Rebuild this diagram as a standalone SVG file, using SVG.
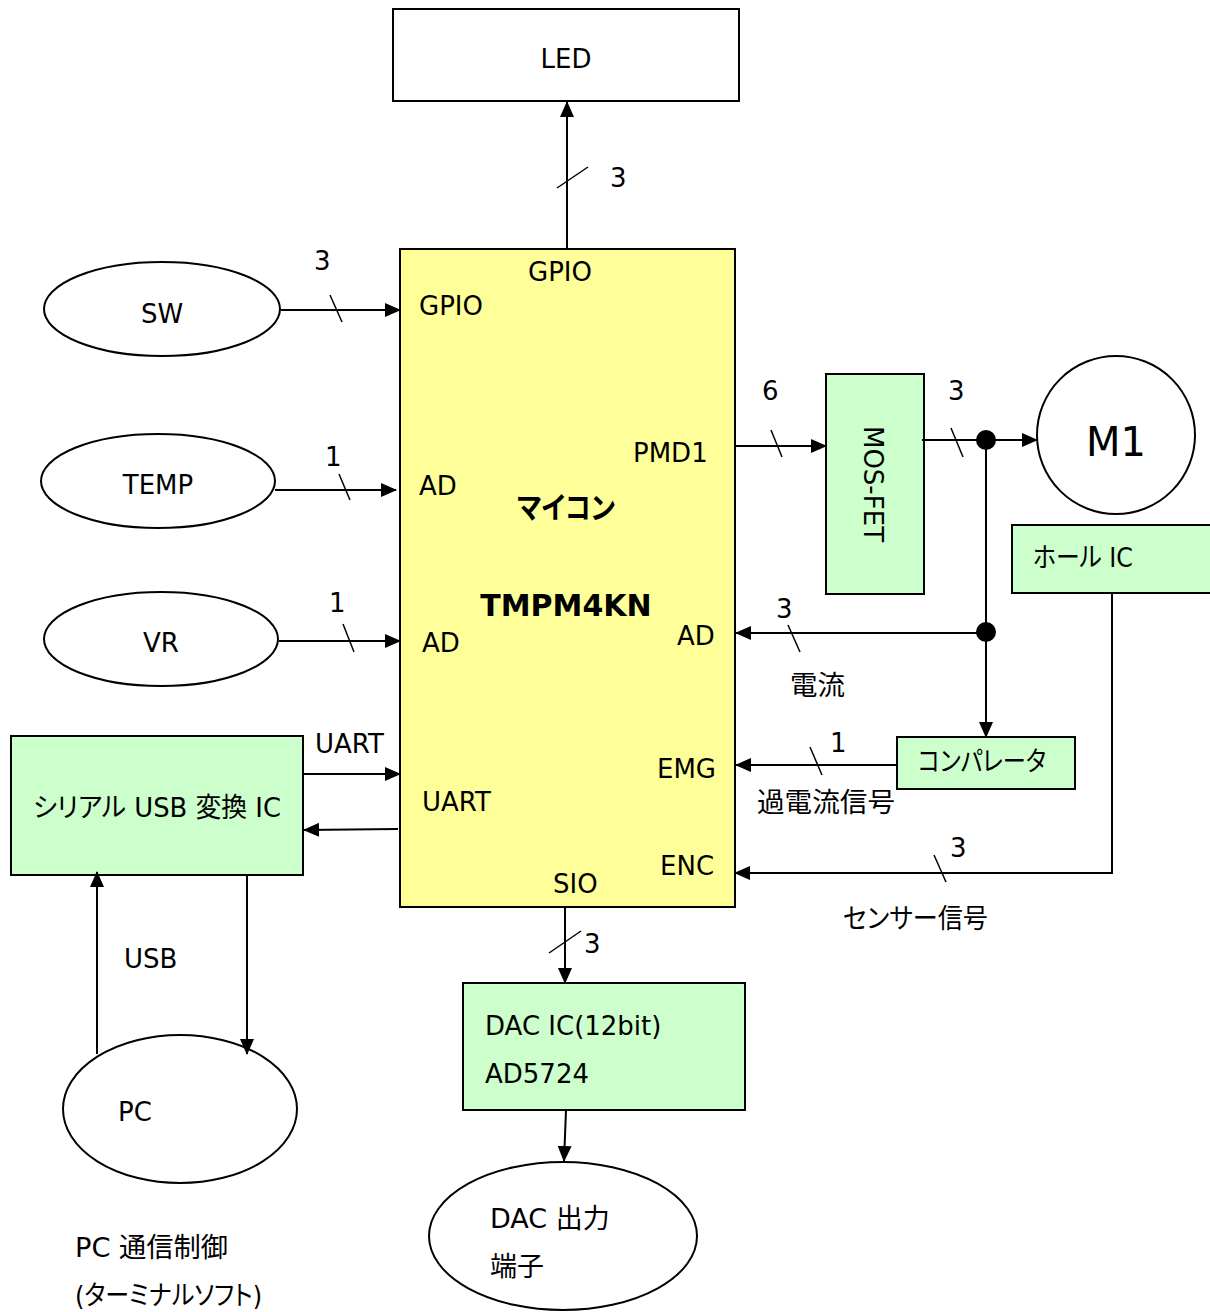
<svg xmlns="http://www.w3.org/2000/svg" width="1210" height="1312" viewBox="0 0 1210 1312">
<defs>
<marker id="ah" markerWidth="16" markerHeight="14" refX="15" refY="7" orient="auto" markerUnits="userSpaceOnUse"><path d="M0,0 L16,7 L0,14 Z" fill="#000"/></marker>
<style>
text{font-family:"DejaVu Sans","Noto Sans CJK JP",sans-serif;font-size:26px;fill:#000;font-feature-settings:"palt"}
.j{font-size:27px}
.b{stroke:#000;stroke-width:2;fill:#fff}
.g{stroke:#000;stroke-width:2;fill:#ccffcc}
.y{stroke:#000;stroke-width:2;fill:#ffff99}
.l{stroke:#000;stroke-width:2;fill:none}
.a{stroke:#000;stroke-width:2;fill:none;marker-end:url(#ah)}
.s{stroke:#000;stroke-width:1.5;fill:none}
.m{text-anchor:middle}
.bd{font-weight:bold;font-size:30px}
</style>
</defs>
<rect width="1210" height="1312" fill="#fff"/>
<g id="led"><rect class="b" x="393" y="9" width="346" height="92"/><text class="m" x="566" y="68">LED</text></g>
<g id="mcu"><rect class="y" x="400" y="249" width="335" height="658"/>
<text class="m" x="560" y="281">GPIO</text>
<text x="419" y="315">GPIO</text>
<text x="419" y="495">AD</text>
<text class="bd" x="517" y="518" textLength="98" lengthAdjust="spacingAndGlyphs">マイコン</text>
<text class="m bd" x="566" y="616">TMPM4KN</text>
<text x="633" y="462">PMD1</text>
<text x="677" y="645">AD</text>
<text x="422" y="652">AD</text>
<text x="657" y="778">EMG</text>
<text x="422" y="811">UART</text>
<text x="660" y="875">ENC</text>
<text x="553" y="893">SIO</text>
</g>
<g id="sw"><ellipse class="b" cx="162" cy="309" rx="118" ry="47"/><text class="m" x="162" y="323">SW</text></g>
<g id="temp"><ellipse class="b" cx="158" cy="481" rx="117" ry="47"/><text class="m" x="158" y="494">TEMP</text></g>
<g id="vr"><ellipse class="b" cx="161" cy="639" rx="117" ry="47"/><text class="m" x="161" y="652">VR</text></g>
<g id="serial"><rect class="g" x="11" y="736" width="292" height="139"/><text class="j" x="33" y="817" textLength="248" lengthAdjust="spacingAndGlyphs">シリアル USB 変換 IC</text></g>
<g id="pc"><ellipse class="b" cx="180" cy="1109" rx="117" ry="74"/><text x="118" y="1121">PC</text></g>
<g id="dacic"><rect class="g" x="463" y="983" width="282" height="127"/><text x="485" y="1035">DAC IC(12bit)</text><text x="485" y="1083">AD5724</text></g>
<g id="dacout"><ellipse class="b" cx="563" cy="1236" rx="134" ry="74"/><text class="j" x="490" y="1228">DAC 出力</text><text class="j" x="490" y="1276">端子</text></g>
<g id="mosfet"><rect class="g" x="826" y="374" width="98" height="220"/><text class="m" transform="translate(864,484) rotate(90)">MOS-FET</text></g>
<g id="m1"><circle class="b" cx="1116" cy="435" r="79"/><text class="m" x="1116" y="456" style="font-size:40px">M1</text></g>
<g id="hall"><rect class="g" x="1012" y="525" width="210" height="68"/><text class="j" x="1033" y="567" textLength="100" lengthAdjust="spacingAndGlyphs">ホール IC</text></g>
<g id="comp"><rect class="g" x="897" y="737" width="178" height="52"/><text class="j" x="918" y="771" textLength="128" lengthAdjust="spacingAndGlyphs">コンパレータ</text></g>
<g id="connectors">
<path class="a" d="M567,249 V102"/><path class="s" d="M557,188 L588,167"/>
<path class="a" d="M281,310 H400"/><path class="s" d="M330,295 L342,322"/>
<path class="a" d="M275,490 H396"/><path class="s" d="M339,474 L350,500"/>
<path class="a" d="M279,641 H400"/><path class="s" d="M343,624 L354,652"/>
<path class="a" d="M303,774 H400"/>
<path class="a" d="M398,829 L304,830"/>
<path class="a" d="M97,1054 V872"/>
<path class="a" d="M247,875 V1054"/>
<path class="a" d="M565,907 V983"/><path class="s" d="M549,953 L581,931"/>
<path class="a" d="M566,1110 L564,1161"/>
<path class="a" d="M735,446 H826"/><path class="s" d="M771,430 L782,457"/>
<path class="a" d="M922,440 H1037"/><path class="s" d="M951,428 L963,457"/>
<circle cx="986" cy="440" r="10" fill="#000"/>
<path class="a" d="M986,440 V737"/>
<circle cx="986" cy="632" r="10" fill="#000"/>
<path class="a" d="M986,633 H736"/><path class="s" d="M788,625 L800,652"/>
<path class="a" d="M1112,593 V873 H735"/><path class="s" d="M934,855 L946,882"/>
<path class="a" d="M897,765 H736"/><path class="s" d="M810,747 L822,775"/>
</g>
<g id="labels">
<text x="610" y="187">3</text>
<text x="314" y="270">3</text>
<text x="325" y="466">1</text>
<text x="329" y="612">1</text>
<text x="315" y="753">UART</text>
<text x="124" y="968">USB</text>
<text class="j" x="75" y="1257" textLength="153" lengthAdjust="spacingAndGlyphs">PC 通信制御</text>
<text class="j" x="75" y="1305" textLength="187" lengthAdjust="spacingAndGlyphs">(ターミナルソフト)</text>
<text x="584" y="953">3</text>
<text x="762" y="400">6</text>
<text x="948" y="400">3</text>
<text x="776" y="618">3</text>
<text class="j" x="790" y="695" textLength="55" lengthAdjust="spacingAndGlyphs">電流</text>
<text x="830" y="752">1</text>
<text class="j" x="757" y="812" textLength="138" lengthAdjust="spacingAndGlyphs">過電流信号</text>
<text x="950" y="857">3</text>
<text class="j" x="843" y="928" textLength="145" lengthAdjust="spacingAndGlyphs">センサー信号</text>
</g>
</svg>
